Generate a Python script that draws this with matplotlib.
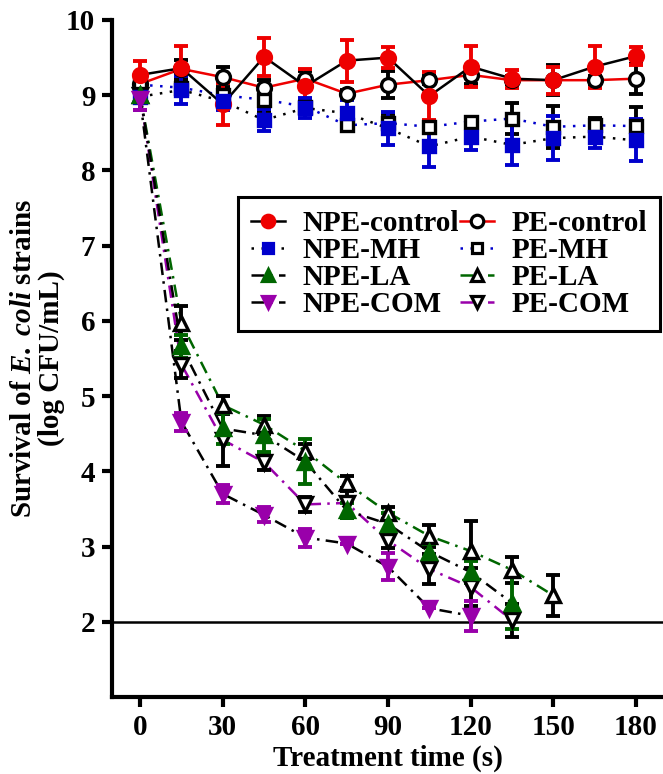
import matplotlib
matplotlib.use("Agg")
import matplotlib.pyplot as plt
from matplotlib.lines import Line2D

plt.rcParams['font.family'] = ['Liberation Serif', 'DejaVu Serif']
plt.rcParams['font.weight'] = 'bold'
plt.rcParams['mathtext.fontset'] = 'custom'
plt.rcParams['mathtext.rm'] = 'Liberation Serif:bold'
plt.rcParams['mathtext.it'] = 'Liberation Serif:italic:bold'
plt.rcParams['mathtext.bf'] = 'Liberation Serif:bold'

t_full = [0, 15, 30, 45, 60, 75, 90, 105, 120, 135, 150, 165, 180]

npe_control = [9.27, 9.36, 8.88, 9.51, 9.12, 9.46, 9.50, 8.99, 9.38, 9.22, 9.20, 9.38, 9.52]
npe_control_err = [0.19, 0.30, 0.28, 0.25, 0.23, 0.28, 0.14, 0.32, 0.27, 0.12, 0.18, 0.28, 0.12]
pe_control = [9.15, 9.35, 9.24, 9.10, 9.22, 9.02, 9.14, 9.20, 9.27, 9.20, 9.20, 9.20, 9.22]
pe_control_err = [0.10, 0.12, 0.13, 0.10, 0.10, 0.05, 0.18, 0.05, 0.12, 0.05, 0.20, 0.05, 0.20]

npe_mh = [8.98, 9.07, 8.92, 8.67, 8.83, 8.76, 8.56, 8.32, 8.45, 8.34, 8.43, 8.45, 8.40]
npe_mh_err = [0.17, 0.19, 0.12, 0.15, 0.13, 0.18, 0.22, 0.27, 0.18, 0.27, 0.29, 0.15, 0.28]
pe_mh = [9.14, 9.10, 9.00, 8.94, 8.85, 8.60, 8.63, 8.58, 8.65, 8.69, 8.58, 8.60, 8.59]
pe_mh_err = [0.10, 0.10, 0.10, 0.15, 0.08, 0.05, 0.12, 0.05, 0.05, 0.20, 0.28, 0.10, 0.25]

t_npe_la = [0, 15, 30, 45, 60, 75, 90, 105, 120, 135]
npe_la = [9.00, 5.66, 4.57, 4.48, 4.13, 3.48, 3.30, 2.93, 2.66, 2.25]
npe_la_err = [0.10, 0.15, 0.20, 0.22, 0.30, 0.10, 0.15, 0.10, 0.15, 0.35]

t_pe_la = [0, 15, 30, 45, 60, 75, 90, 105, 120, 135, 150]
pe_la = [9.00, 5.97, 4.88, 4.62, 4.27, 3.84, 3.45, 3.14, 2.94, 2.69, 2.35]
pe_la_err = [0.10, 0.23, 0.12, 0.12, 0.10, 0.10, 0.08, 0.15, 0.40, 0.17, 0.27]

t_npe_com = [0, 15, 30, 45, 60, 75, 90, 105, 120]
npe_com = [8.95, 4.66, 3.70, 3.42, 3.12, 3.04, 2.73, 2.18, 2.08]
npe_com_err = [0.15, 0.12, 0.12, 0.10, 0.12, 0.0, 0.18, 0.0, 0.20]

t_pe_com = [0, 15, 30, 45, 60, 75, 90, 105, 120, 135]
pe_com = [9.00, 5.42, 4.42, 4.12, 3.56, 3.58, 3.08, 2.70, 2.46, 2.02]
pe_com_err = [0.10, 0.18, 0.35, 0.10, 0.10, 0.20, 0.10, 0.20, 0.25, 0.22]

x_ticks = [0, 30, 60, 90, 120, 150, 180]
y_ticks = [2, 3, 4, 5, 6, 7, 8, 9, 10]
limit_line = 2

RED = '#ee0000'
BLUE = '#0000cc'
GREEN = '#006600'
PURPLE = '#9900aa'
DD = (0, (5, 2.5, 1, 2.5))
DOT = (0, (1, 3))
FS = 21

series = [
    # label, x, y, err, line color, linestyle, marker, mfc, mec, ecolor
    ('NPE-control', t_full, npe_control, npe_control_err, 'black', '-', 'o', RED, RED, RED),
    ('NPE-MH', t_full, npe_mh, npe_mh_err, 'black', DOT, 's', BLUE, BLUE, BLUE),
    ('NPE-LA', t_npe_la, npe_la, npe_la_err, 'black', DD, '^', GREEN, GREEN, GREEN),
    ('NPE-COM', t_npe_com, npe_com, npe_com_err, 'black', DD, 'v', PURPLE, PURPLE, PURPLE),
    ('PE-control', t_full, pe_control, pe_control_err, RED, '-', 'o', 'white', 'black', 'black'),
    ('PE-MH', t_full, pe_mh, pe_mh_err, BLUE, DOT, 's', 'white', 'black', 'black'),
    ('PE-LA', t_pe_la, pe_la, pe_la_err, GREEN, DD, '^', 'white', 'black', 'black'),
    ('PE-COM', t_pe_com, pe_com, pe_com_err, PURPLE, DD, 'v', 'white', 'black', 'black'),
]

def msize(mk):
    return 8.5 if mk == 's' else 10

fig = plt.figure(figsize=(6.63, 7.74), dpi=100)
ax = fig.add_axes([112/663, 77/774, 551/663, 677/774])

handles = []
draw_order = [4, 5, 6, 7, 0, 1, 2, 3]
for i in draw_order:
    lab, x, y, e, lc, ls, mk, mfc, mec, ec = series[i]
    ax.errorbar(x, y, yerr=e, fmt='none', ecolor=ec, elinewidth=2.8,
                capsize=5, capthick=2.8, zorder=3)
    ax.plot(x, y, color=lc, linestyle=ls, linewidth=1.8, zorder=2)
    ax.plot(x, y, linestyle='none', marker=mk, markersize=msize(mk),
            markerfacecolor=mfc, markeredgecolor=mec, markeredgewidth=2.4, zorder=4)

for s in series:
    lab, x, y, e, lc, ls, mk, mfc, mec, ec = s
    handles.append(Line2D([], [], color=lc, linestyle=ls, linewidth=1.8, marker=mk,
                          markersize=msize(mk) - 1, markerfacecolor=mfc,
                          markeredgecolor=mec, markeredgewidth=2.3, label=lab))

ax.axhline(limit_line, color='black', linewidth=1.8, zorder=1)

ax.set_xlim(-10.2, 189.8)
ax.set_ylim(1, 10)
ax.set_xticks(x_ticks)
ax.set_yticks(y_ticks)
ax.tick_params(axis='both', direction='out', length=7, width=3, labelsize=FS, pad=5)
for sp in ['top', 'right']:
    ax.spines[sp].set_visible(False)
for sp in ['left', 'bottom']:
    ax.spines[sp].set_linewidth(3)

ax.set_xlabel('Treatment time (s)', fontsize=FS, fontweight='bold', labelpad=3)
ax.set_ylabel('Survival of $\\it{E.\\ coli}$ strains\n(log CFU/mL)', fontsize=FS,
              fontweight='bold', labelpad=0.5, linespacing=1.05)

leg = ax.legend(handles=handles, ncol=2, loc='upper left',
                bbox_to_anchor=(238/663, 1 - 197/774), bbox_transform=fig.transFigure,
                frameon=True, fancybox=False, edgecolor='black', framealpha=1,
                fontsize=FS, handlelength=1.15, handletextpad=0.6, columnspacing=0.05,
                labelspacing=0.0, borderpad=0.45, borderaxespad=0)
leg.get_frame().set_linewidth(2.2)

fig.savefig('out.png', dpi=100)
